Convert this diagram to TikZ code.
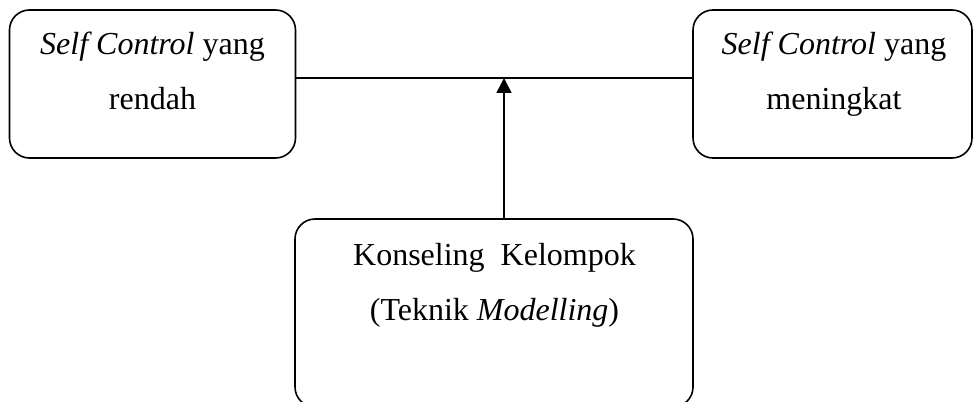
\documentclass[tikz,border=0pt]{standalone}
\usepackage{fontspec}
\setmainfont{Liberation Serif}
\usetikzlibrary{arrows.meta}
\begin{document}
\begin{tikzpicture}[x=1pt,y=-1pt,
  framebox/.style={draw, line width=1.6pt, rounded corners=20pt, inner sep=0pt},
  txt/.style={anchor=base, inner sep=0pt, font=\fontsize{32}{38}\selectfont},
  link/.style={line width=1.6pt}]
  \clip (0,0) rectangle (973,401);

  % boxes
  \node[framebox, minimum width=286pt, minimum height=148pt] (L) at (152.5,84) {};
  \node[framebox, minimum width=279pt, minimum height=148pt] (R) at (832.5,84) {};
  \node[framebox, minimum width=398pt, minimum height=188pt] (B) at (494,313) {};

  % box texts
  \node[txt] (l1) at (152.5,55) {\textit{Self Control} yang};
  \node[txt] (l2) at (152.5,110) {rendah};
  \node[txt] (r1) at (834,55) {\textit{Self Control} yang};
  \node[txt] (r2) at (834,110) {meningkat};
  \node[txt] (b1) at (494.5,265) {Konseling\ \ Kelompok};
  \node[txt] (b2) at (494.5,320) {(Teknik \textit{Modelling})};

  % connectors
  \coordinate (j) at (504,78);
  \draw[link, line width=1.3pt] (L.east |- j) -- (R.west |- j);
  \draw[link, -{Triangle[width=15pt,length=15pt]}] (B.north -| j) -- (j);
\end{tikzpicture}
\end{document}
